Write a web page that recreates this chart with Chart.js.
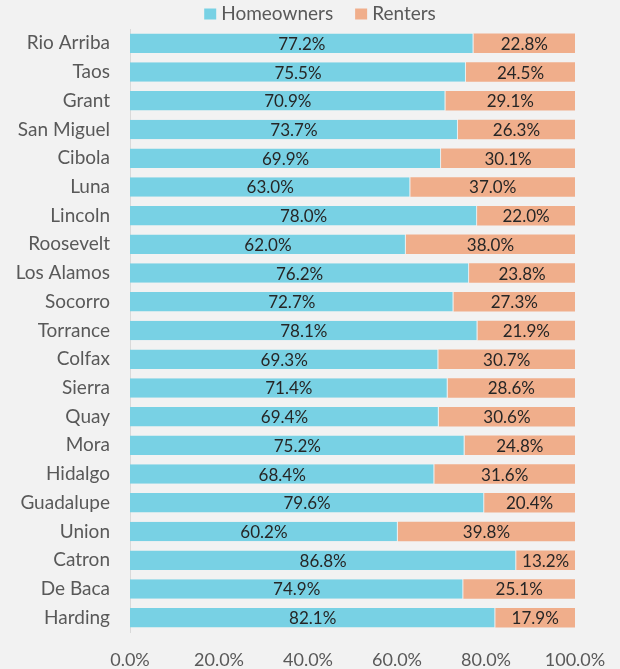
<!DOCTYPE html>
<html>
<head>
<meta charset="utf-8">
<script src="https://cdn.jsdelivr.net/npm/chart.js@4"></script>
<style>
  html, body { margin: 0; padding: 0; background: #f2f2f2; }
  #wrap { width: 620px; height: 669px; }
</style>
</head>
<body>
<div id="wrap"><canvas id="chart"></canvas></div>
<script>
// counties, top to bottom
const counties = ['Rio Arriba', 'Taos', 'Grant', 'San Miguel', 'Cibola', 'Luna', 'Lincoln',
  'Roosevelt', 'Los Alamos', 'Socorro', 'Torrance', 'Colfax', 'Sierra', 'Quay', 'Mora',
  'Hidalgo', 'Guadalupe', 'Union', 'Catron', 'De Baca', 'Harding'];
const homeowners = [77.2, 75.5, 70.9, 73.7, 69.9, 63.0, 78.0, 62.0, 76.2, 72.7, 78.1,
  69.3, 71.4, 69.4, 75.2, 68.4, 79.6, 60.2, 86.8, 74.9, 82.1];
const renters = [22.8, 24.5, 29.1, 26.3, 30.1, 37.0, 22.0, 38.0, 23.8, 27.3, 21.9,
  30.7, 28.6, 30.6, 24.8, 31.6, 20.4, 39.8, 13.2, 25.1, 17.9];
const xTicks = [0, 20, 40, 60, 80, 100];

const FONT = 'Lato, "Open Sans", sans-serif';

// draw the value in the middle of each segment
const barLabels = {
  id: 'barLabels',
  afterDatasetsDraw(chart) {
    const ctx = chart.ctx;
    ctx.save();
    ctx.font = '17px ' + FONT;
    ctx.fillStyle = '#262626';
    ctx.textAlign = 'center';
    ctx.textBaseline = 'middle';
    chart.data.datasets.forEach((ds, i) => {
      chart.getDatasetMeta(i).data.forEach((bar, j) => {
        const x = (bar.x + bar.base) / 2;
        ctx.fillText(ds.data[j].toFixed(1) + '%', x, bar.y + 1);
      });
    });
    ctx.restore();
  }
};

// legend row at the top, centred a bit right of the canvas middle like the original
const topLegend = {
  id: 'topLegend',
  afterDraw(chart) {
    const ctx = chart.ctx;
    const box = 12, gap = 5, itemGap = 22, cy = 14;
    ctx.save();
    ctx.font = '19px ' + FONT;
    ctx.textBaseline = 'middle';
    const items = chart.data.datasets.map(ds => ({
      text: ds.label, color: ds.backgroundColor, w: ctx.measureText(ds.label).width
    }));
    let total = items.reduce((s, it) => s + box + gap + it.w, 0) + itemGap * (items.length - 1);
    let x = 320 - total / 2;
    items.forEach(it => {
      ctx.fillStyle = it.color;
      ctx.fillRect(x, cy - 5.5, box, 11);
      x += box + gap;
      ctx.fillStyle = '#595959';
      ctx.fillText(it.text, x, cy);
      x += it.w + itemGap;
    });
    ctx.restore();
  }
};

new Chart(document.getElementById('chart'), {
  type: 'bar',
  data: {
    labels: counties,
    datasets: [
      { label: 'Homeowners', data: homeowners, backgroundColor: '#78d1e4',
        borderColor: '#e6eef0', borderWidth: { right: 1 }, borderSkipped: false },
      { label: 'Renters', data: renters, backgroundColor: '#f0ae8b',
        borderWidth: 0 }
    ]
  },
  options: {
    indexAxis: 'y',
    responsive: true,
    maintainAspectRatio: false,
    animation: false,
    layout: { padding: { left: 0, right: 45, top: 29, bottom: 0 } },
    datasets: { bar: { categoryPercentage: 0.68, barPercentage: 1 } },
    plugins: {
      legend: { display: false },
      tooltip: { enabled: false }
    },
    scales: {
      x: {
        stacked: true, min: 0, max: 100,
        grid: { display: false },
        border: { display: false },
        afterBuildTicks(scale) { scale.ticks = xTicks.map(v => ({ value: v })); },
        afterFit(scale) { scale.height = 37; },
        ticks: {
          padding: 9,
          color: '#595959', font: { family: FONT, size: 18 },
          callback: v => v.toFixed(1) + '%'
        }
      },
      y: {
        stacked: true,
        grid: { display: false },
        border: { display: true, color: '#d9d9d9', width: 1 },
        afterFit(scale) { scale.width = 130; },
        ticks: {
          padding: 12,
          color: '#595959', font: { family: FONT, size: 19 }
        }
      }
    }
  },
  plugins: [barLabels, topLegend]
});
</script>
</body>
</html>
